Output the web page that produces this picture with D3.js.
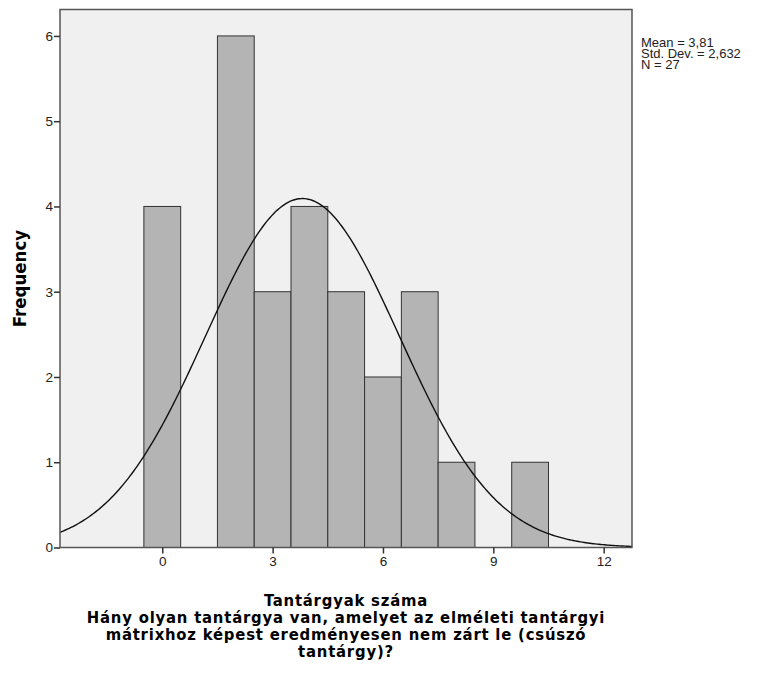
<!DOCTYPE html>
<html>
<head>
<meta charset="utf-8">
<script src="https://cdn.jsdelivr.net/npm/d3@7"></script>
<style>
  body { margin: 0; background: #fff; }
  svg text { font-family: "Liberation Sans", Arial, sans-serif; }
  .title { font-family: "DejaVu Sans Condensed", "DejaVu Sans", sans-serif; font-stretch: condensed; font-weight: bold; }
</style>
</head>
<body>
<svg id="chart" width="758" height="675"></svg>
<script>
// histogram bins (value -> count)
var values = [0, 1, 2, 3, 4, 5, 6, 7, 8, 9, 10]
  , counts = [4, 0, 6, 3, 4, 3, 2, 3, 1, 0, 1]
  , xTicks = [0, 3, 6, 9, 12]
  , yTicks = [0, 1, 2, 3, 4, 5, 6]
  , stats = ['Mean = 3,81', 'Std. Dev. = 2,632', 'N = 27']
  , titleLines = ['Tantárgyak száma',
      'Hány olyan tantárgya van, amelyet az elméleti tantárgyi',
      'mátrixhoz képest eredményesen nem zárt le (csúszó',
      'tantárgy)?']
  , mean = 3.81, sd = 2.632, n = 27

var svg = d3.select('#chart')
  , plotLeft = 60, plotRight = 632, plotTop = 9.5, plotBottom = 547.5

var x = d3.scaleLinear().domain([-2.78, 12.77]).range([plotLeft, plotRight])
  , y = d3.scaleLinear().domain([0, 6.31]).range([plotBottom, plotTop])

svg.append('rect')
  .attr('x', plotLeft).attr('y', plotTop)
  .attr('width', plotRight - plotLeft).attr('height', plotBottom - plotTop)
  .attr('fill', '#f0f0f0')

// bars
svg.selectAll('rect.bar').data(values.map(function(v, i) { return {v: v, c: counts[i]} })
    .filter(function(d) { return d.c > 0 }))
  .enter().append('rect').classed('bar', true)
  .attr('x', function(d) { return x(d.v - 0.5) })
  .attr('width', function(d) { return x(d.v + 0.5) - x(d.v - 0.5) })
  .attr('y', function(d) { return y(d.c) })
  .attr('height', function(d) { return y(0) - y(d.c) })
  .attr('fill', '#b4b4b4')
  .attr('stroke', '#333')
  .attr('stroke-width', 1)

// fitted normal curve from mean / sd / N
var pts = d3.range(-2.78, 12.77 + 0.001, 0.05).map(function(t) {
  var z = (t - mean) / sd
  return [t, n * Math.exp(-0.5 * z * z) / (sd * Math.sqrt(2 * Math.PI))]
})
svg.append('path').datum(pts)
  .attr('d', d3.line().x(function(d) { return x(d[0]) }).y(function(d) { return y(d[1]) }))
  .attr('fill', 'none')
  .attr('stroke', '#111')
  .attr('stroke-width', 1.4)

// frame
svg.append('rect')
  .attr('x', plotLeft).attr('y', plotTop)
  .attr('width', plotRight - plotLeft).attr('height', plotBottom - plotTop)
  .attr('fill', 'none')
  .attr('stroke', '#555')
  .attr('stroke-width', 1.5)

// axes
var xAxis = svg.append('g').attr('transform', 'translate(0,' + plotBottom + ')')
  .call(d3.axisBottom(x).tickValues(xTicks).tickFormat(d3.format('d')).tickSize(6).tickPadding(3))
var yAxis = svg.append('g').attr('transform', 'translate(' + plotLeft + ',0)')
  .call(d3.axisLeft(y).tickValues(yTicks).tickFormat(d3.format('d')).tickSize(6).tickPadding(1))
;[xAxis, yAxis].forEach(function(g) {
  g.select('.domain').remove()
  g.selectAll('.tick line').attr('stroke', '#333').attr('stroke-width', 1.5)
  g.selectAll('.tick text').attr('fill', '#222')
    .style('font-family', '"Liberation Sans", Arial, sans-serif').style('font-size', '13.5px')
})

// y title
svg.append('text').attr('class', 'title')
  .attr('transform', 'translate(26,' + (plotTop + plotBottom) / 2 + ') rotate(-90)')
  .attr('text-anchor', 'middle')
  .style('font-size', '18.5px')
  .text('Frequency')

// x title
svg.append('text').attr('class', 'title')
  .attr('text-anchor', 'middle')
  .style('font-size', '16.5px')
  .style('letter-spacing', '0.8px')
  .selectAll('tspan').data(titleLines)
  .enter().append('tspan')
  .attr('x', (plotLeft + plotRight) / 2)
  .attr('y', function(d, i) { return 606 + i * 17 })
  .text(function(d) { return d })

// stats box
svg.append('g').selectAll('text').data(stats)
  .enter().append('text')
  .attr('x', 641)
  .attr('y', function(d, i) { return 47 + i * 11 })
  .style('font-size', '13px')
  .attr('fill', '#222')
  .text(function(d) { return d })
</script>
</body>
</html>
